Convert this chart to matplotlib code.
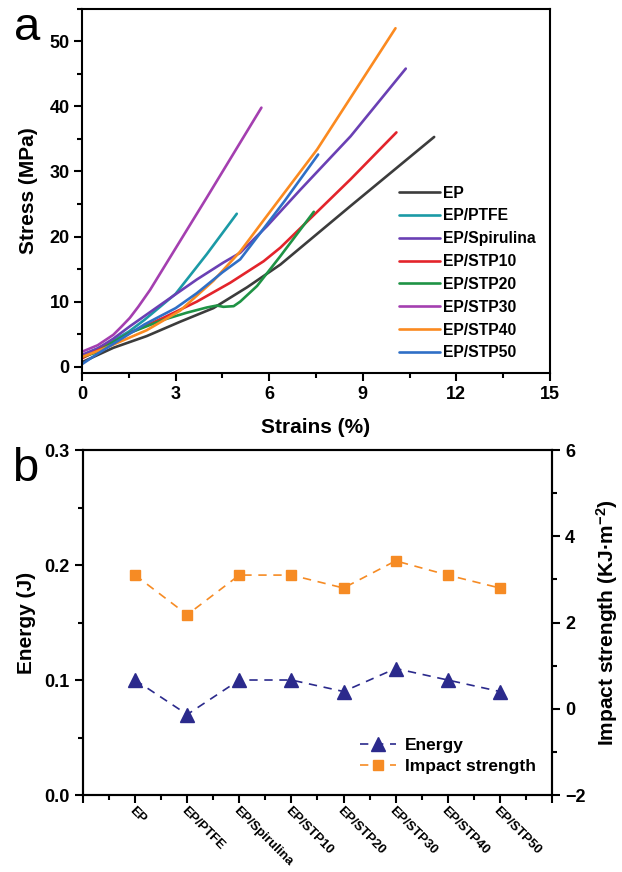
import numpy as np
import matplotlib
matplotlib.use('Agg')
import matplotlib.pyplot as plt
from matplotlib.ticker import MultipleLocator

plt.rcParams['font.family'] = ['Liberation Sans', 'DejaVu Sans']
plt.rcParams['font.weight'] = 'bold'
plt.rcParams['mathtext.fontset'] = 'custom'
plt.rcParams['mathtext.rm'] = 'Liberation Sans:bold'
plt.rcParams['mathtext.default'] = 'regular'

# panel a: stress-strain curves
names = ['EP', 'EP/PTFE', 'EP/Spirulina', 'EP/STP10', 'EP/STP20',
         'EP/STP30', 'EP/STP40', 'EP/STP50']
colors = ['#3c3c3c', '#1b9aa6', '#6a40b4', '#e3242b', '#1f9345',
          '#a43fb0', '#fb8a20', '#2f6fc6']

ep_x = [0, 1, 2.07, 3.14, 4.21, 5.29, 6.36, 8.61, 11.29]
ep_y = [0.7, 2.9, 4.7, 6.9, 9.0, 12.2, 15.7, 24.7, 35.3]
ptfe_x = [0, 0.5, 1, 1.5, 2, 2.5, 3, 4, 4.96]
ptfe_y = [1.8, 2.8, 4.0, 5.4, 7.2, 9.2, 11.2, 17.3, 23.5]
spir_x = [0, 0.5, 1, 1.53, 2.6, 3.68, 4.53, 5.07, 5.93, 7.0, 8.61, 10.38]
spir_y = [1.8, 2.8, 4.3, 6.2, 9.8, 13.4, 16.0, 17.5, 21.6, 27.2, 35.4, 45.8]
stp10_x = [0, 0.5, 1, 1.53, 2.6, 3.68, 4.75, 5.82, 6.36, 8.61, 10.08]
stp10_y = [1.3, 2.5, 3.7, 5.2, 7.5, 10.0, 12.9, 16.2, 18.3, 28.8, 36.0]
stp20_x = [0, 0.46, 1, 1.53, 2.6, 3.36, 4.0, 4.32, 4.53, 4.86, 5.07, 5.61, 6.36, 7.43]
stp20_y = [1.5, 2.2, 3.8, 5.2, 7.2, 8.3, 9.1, 9.4, 9.2, 9.3, 10.0, 12.4, 17.0, 23.8]
stp30_x = [0, 0.5, 1, 1.25, 1.53, 1.8, 2.18, 3, 4, 5.75]
stp30_y = [2.3, 3.3, 4.9, 6.1, 7.5, 9.2, 11.8, 18.2, 26.0, 39.8]
stp40_x = [0, 0.5, 1, 2.07, 3.14, 4.21, 5.07, 5.82, 7.54, 10.05]
stp40_y = [1.5, 2.4, 3.4, 5.6, 8.6, 13.2, 17.7, 22.5, 33.4, 52.0]
stp50_x = [0, 0.5, 1, 2, 3, 3.68, 4.5, 5.07, 5.39, 6.5, 7.57]
stp50_y = [0.4, 2.0, 3.5, 6.5, 9.0, 11.3, 14.5, 16.5, 18.5, 25.5, 32.6]

curves = [(ep_x, ep_y), (ptfe_x, ptfe_y), (spir_x, spir_y), (stp10_x, stp10_y),
          (stp20_x, stp20_y), (stp30_x, stp30_y), (stp40_x, stp40_y), (stp50_x, stp50_y)]

# panel b: impact test
energy = [0.10, 0.07, 0.10, 0.10, 0.09, 0.11, 0.10, 0.09]
impact = [3.1, 2.18, 3.1, 3.1, 2.8, 3.43, 3.1, 2.8]

fig = plt.figure(figsize=(6.22, 8.72), dpi=100)

# ---- a ----
ax1 = fig.add_axes([0.132, 0.572, 0.752, 0.418])
for (x, y), name, c in zip(curves, names, colors):
    ax1.plot(x, y, color=c, lw=1.9, label=name, solid_capstyle='round')
ax1.set_xlim(0, 15)
ax1.set_ylim(-1, 55)
ax1.xaxis.set_major_locator(MultipleLocator(3))
ax1.xaxis.set_minor_locator(MultipleLocator(1.5))
ax1.yaxis.set_major_locator(MultipleLocator(10))
ax1.yaxis.set_minor_locator(MultipleLocator(5))
ax1.tick_params(which='both', direction='out', width=1.5, labelsize=13, top=False, right=False)
ax1.tick_params(which='major', length=6, pad=3)
ax1.tick_params(which='minor', length=3.5)
for s in ax1.spines.values():
    s.set_linewidth(1.5)
ax1.set_xlabel('Strains (%)', fontsize=15, fontweight='bold', va='center')
ax1.xaxis.set_label_coords(0.5, -0.148)
ax1.set_ylabel('Stress (MPa)', fontsize=15, fontweight='bold', va='center')
ax1.yaxis.set_label_coords(-0.114, 0.5)
ax1.legend(loc='upper left', bbox_to_anchor=(0.677, 0.515), frameon=False, fontsize=11.3,
           handlelength=2.6, handletextpad=0.2, labelspacing=0.5, borderpad=0, borderaxespad=0)
fig.text(0.023, 0.968, 'a', fontsize=34, fontweight='normal', va='center')

# ---- b ----
ax2 = fig.add_axes([0.1334, 0.0883, 0.754, 0.3956])
pos = np.arange(1, len(names) + 1)
ax2.plot(pos, energy, ls=(0, (5, 4)), lw=1.2, color='#2b2a8c', marker='^', ms=10, label='Energy')
ax2.set_xlim(0, 9)
ax2.set_ylim(0, 0.3)
ax2.yaxis.set_major_locator(MultipleLocator(0.1))
ax2.yaxis.set_minor_locator(MultipleLocator(0.05))
ax2.set_xticks(np.arange(0, 10))
ax2.set_xticklabels([''] + names + [''], rotation=-45, ha='left', rotation_mode='anchor',
                    fontsize=9.5, fontweight='bold')
ax2.xaxis.set_minor_locator(MultipleLocator(0.5))
ax2.tick_params(which='both', direction='out', width=1.5, labelsize=13)
ax2.tick_params(axis='x', labelsize=9.5, pad=1)
ax2.tick_params(which='major', length=6)
ax2.tick_params(which='minor', length=3.5)
ax2.set_ylabel('Energy (J)', fontsize=15, fontweight='bold', va='center')
ax2.yaxis.set_label_coords(-0.12, 0.5)

ax3 = ax2.twinx()
ax3.plot(pos, impact, ls=(0, (5, 4)), lw=1.2, color='#f68b24', marker='s', ms=7.5, label='Impact strength')
ax3.set_ylim(-2, 6)
ax3.yaxis.set_major_locator(MultipleLocator(2))
ax3.yaxis.set_minor_locator(MultipleLocator(1))
ax3.tick_params(which='both', direction='out', width=1.5, labelsize=13)
ax3.tick_params(which='major', length=6)
ax3.tick_params(which='minor', length=3.5)
ax3.set_ylabel('Impact strength (KJ·m$^{-2}$)', fontsize=15, fontweight='bold', va='center')
ax3.yaxis.set_label_coords(1.118, 0.5)
for a in (ax2, ax3):
    for s in a.spines.values():
        s.set_linewidth(1.5)

h1, l1 = ax2.get_legend_handles_labels()
h2, l2 = ax3.get_legend_handles_labels()
ax3.legend(h1 + h2, l1 + l2, loc='upper left', bbox_to_anchor=(0.59, 0.165), frameon=False,
           fontsize=12.5, handlelength=2.1, handletextpad=0.5, labelspacing=0.33,
           borderpad=0, borderaxespad=0)
fig.text(0.02, 0.462, 'b', fontsize=34, fontweight='normal', va='center')

fig.savefig('out.png', dpi=100)
